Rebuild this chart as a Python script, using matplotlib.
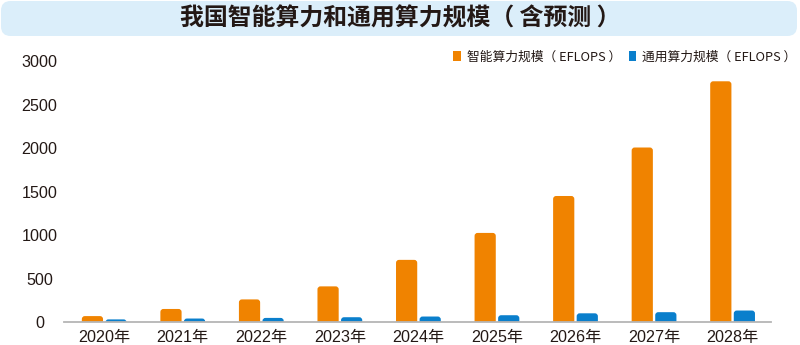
import matplotlib
matplotlib.use("Agg")
import matplotlib.pyplot as plt
from matplotlib.patches import FancyBboxPatch, Patch

# Data (EFLOPS)
years = ["2020年", "2021年", "2022年", "2023年", "2024年", "2025年", "2026年", "2027年", "2028年"]
intelligent = [68, 150, 260, 410, 715, 1025, 1450, 2008, 2770]
general = [30, 40, 47, 55, 63, 78, 100, 113, 132]
series_names = ["智能算力规模（ EFLOPS ）", "通用算力规模（ EFLOPS ）"]
yticks = [0, 500, 1000, 1500, 2000, 2500, 3000]

ORANGE = "#f08300"
BLUE = "#0a7fcc"
TEXT = "#231815"
FONTS = ["Liberation Sans", "Noto Sans CJK SC", "DejaVu Sans"]
CJK = ["Noto Sans CJK SC", "DejaVu Sans"]

W, H = 800, 345
fig = plt.figure(figsize=(W / 100, H / 100), dpi=100)
fig.patch.set_facecolor("white")

# Title banner
banner = FancyBboxPatch((1 / W, 1 - 36 / H), 796 / W, 35 / H,
                        boxstyle="round,pad=0,rounding_size=0.012",
                        mutation_aspect=W / H,
                        transform=fig.transFigure, facecolor="#dbeefa",
                        edgecolor="none", zorder=0)
fig.patches.append(banner)
fig.text(0.5, 1 - 19 / H, "我国智能算力和通用算力规模（ 含预测 ）",
         ha="center", va="center", fontsize=17.2, fontweight="bold",
         color=TEXT, family=CJK)

left, right, bottom, top = 64, 771, 322, 61.3
ax = fig.add_axes([left / W, 1 - bottom / H, (right - left) / W, (bottom - top) / H])

x = list(range(len(years)))
bw = 0.27
off = 0.15
xlim = (-0.512, 8.489)
ylim = (0, 3000)
ax.set_xlim(*xlim)
ax.set_ylim(*ylim)

px_x = (right - left) / (xlim[1] - xlim[0])
px_y = (bottom - top) / (ylim[1] - ylim[0])
r = 3.0 / px_x
aspect = px_x / px_y
ext = 4.0 / px_y


def rounded_bars(xs, vals, color):
    bars = ax.bar(xs, vals, width=bw, color=color)
    for b in bars:
        bx, bwid, bh = b.get_x(), b.get_width(), b.get_height()
        b.set_visible(False)
        p = FancyBboxPatch((bx, -ext), bwid, bh + ext,
                           boxstyle=f"round,pad=0,rounding_size={r}",
                           mutation_aspect=aspect,
                           facecolor=color, edgecolor="none", zorder=2)
        ax.add_patch(p)


rounded_bars([i - off for i in x], intelligent, ORANGE)
rounded_bars([i + off for i in x], general, BLUE)

for s in ["top", "right", "left"]:
    ax.spines[s].set_visible(False)
ax.spines["bottom"].set_color("#b5b5b5")
ax.spines["bottom"].set_linewidth(1.3)
ax.spines["bottom"].set_zorder(3)

ax.set_xticks(x)
ax.set_xticklabels(years, family=FONTS, fontsize=11.6, color=TEXT)
ax.set_yticks(yticks)
ax.set_yticklabels([str(v) for v in yticks], family=FONTS, fontsize=11.6,
                   color=TEXT, ha="center")
ax.tick_params(axis="x", length=0, pad=6)
ax.tick_params(axis="y", length=0, pad=17.6)
ax.set_facecolor("none")

handles = [Patch(facecolor=ORANGE, edgecolor="none"),
           Patch(facecolor=BLUE, edgecolor="none")]
fig.legend(handles, series_names, loc="center right",
           bbox_to_anchor=(1 + 4 / W, 1 - 57 / H), ncol=2, frameon=False,
           prop={"family": CJK, "size": 9.2}, handlelength=0.6,
           handleheight=0.75, handletextpad=0.45, columnspacing=0.6,
           borderaxespad=0.2, labelcolor=TEXT)

fig.savefig("out.png", dpi=100, facecolor="white")
